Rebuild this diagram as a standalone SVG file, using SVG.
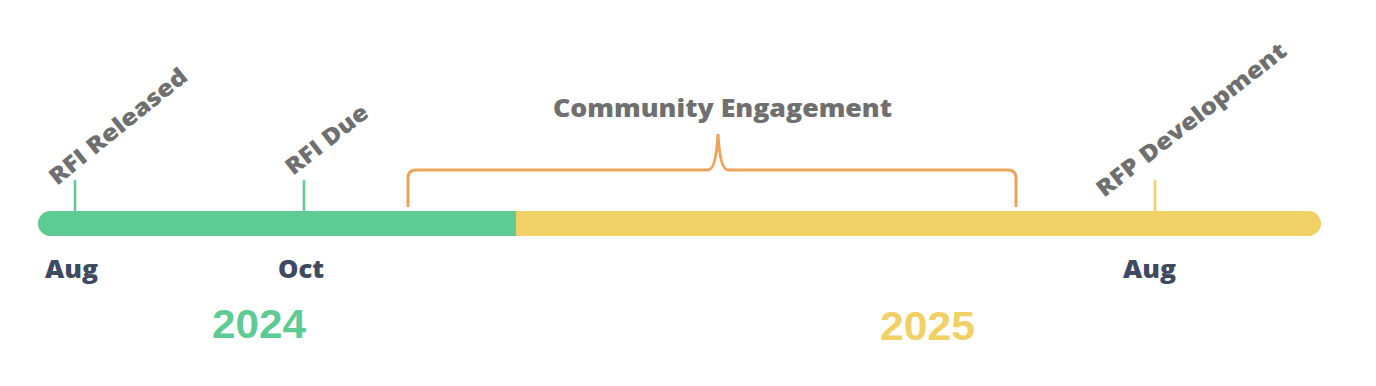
<svg xmlns="http://www.w3.org/2000/svg" width="1376" height="386" viewBox="0 0 1376 386">
<style>
.lbl{font-family:"Open Sans","Liberation Sans",sans-serif;font-weight:800;fill:#6f6f6f;font-size:23px}
.mon{font-family:"Open Sans","Liberation Sans",sans-serif;font-weight:800;fill:#3d4a5f;font-size:24px}
.yr{font-family:"Liberation Sans","Open Sans",sans-serif;font-weight:700;font-size:40px}
.tick{stroke-width:2.5}
</style>
<rect width="1376" height="386" fill="#ffffff"/>
<g id="timeline">
<rect x="38" y="211" width="1283" height="25" rx="12.5" fill="#f1d066"/>
<path d="M50.5 211 H516 V236 H50.5 A12.5 12.5 0 0 1 50.5 211 Z" fill="#5dcb93"/>
</g>
<g id="connectors">
<line class="tick" x1="75" y1="180" x2="75" y2="211" stroke="#5dcb93"/>
<line class="tick" x1="304" y1="180" x2="304" y2="211" stroke="#5dcb93"/>
<line class="tick" x1="1155" y1="180" x2="1155" y2="211" stroke="#f1d066"/>
<path d="M408 207 V178 Q408 170 416 170 H708 Q716 170 718 134 Q720 170 728 170 H1008 Q1016 170 1016 178 V207" fill="none" stroke="#eca35a" stroke-width="3"/>
</g>
<g id="rfi-released"><text class="lbl" transform="translate(57,186) rotate(-39)" textLength="170" lengthAdjust="spacingAndGlyphs">RFI Released</text></g>
<g id="rfi-due"><text class="lbl" transform="translate(293,176) rotate(-38)" textLength="98" lengthAdjust="spacingAndGlyphs">RFI Due</text></g>
<g id="rfp-development"><text class="lbl" transform="translate(1104,198) rotate(-38)" textLength="234" lengthAdjust="spacingAndGlyphs">RFP Development</text></g>
<g id="community-engagement"><text class="lbl" x="553" y="117" textLength="339" lengthAdjust="spacingAndGlyphs" style="font-size:25px">Community Engagement</text></g>
<g id="aug-2024"><text class="mon" x="45" y="278" textLength="53" lengthAdjust="spacingAndGlyphs">Aug</text></g>
<g id="oct-2024"><text class="mon" x="278" y="278" textLength="46" lengthAdjust="spacingAndGlyphs">Oct</text></g>
<g id="aug-2025"><text class="mon" x="1123" y="278" textLength="53" lengthAdjust="spacingAndGlyphs">Aug</text></g>
<g id="year-2024"><text class="yr" x="212" y="338" textLength="94" lengthAdjust="spacingAndGlyphs" fill="#5dcb93">2024</text></g>
<g id="year-2025"><text class="yr" x="880" y="340" textLength="95" lengthAdjust="spacingAndGlyphs" fill="#f1d066">2025</text></g>
</svg>
